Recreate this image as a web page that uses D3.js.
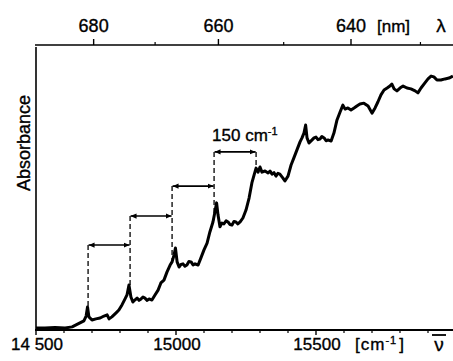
<!DOCTYPE html>
<html>
<head>
<meta charset="utf-8">
<script src="https://cdn.jsdelivr.net/npm/d3@7"></script>
<style>
  body { margin: 0; background: #fff; }
  svg { display: block; }
  text { font-family: "Liberation Sans", Arial, sans-serif; fill: #000; stroke: #000; stroke-width: 0.35; }
</style>
</head>
<body>
<svg id="chart"></svg>
<script>
// spectrum: wavenumber [cm-1] vs absorbance (arb. units)
const wavenumber = [14500, 14532, 14568, 14604, 14629, 14643, 14657, 14671, 14679, 14684,
  14689, 14700, 14714, 14729, 14743, 14754, 14761, 14771, 14786, 14796,
  14807, 14818, 14825, 14832, 14839, 14846, 14854, 14861, 14868, 14875, 14882, 14889, 14897, 14904,
  14914, 14925, 14936, 14946, 14957, 14968, 14979, 14986, 14993, 14998,
  15004, 15011, 15018, 15025, 15032, 15039, 15046, 15054, 15061, 15068, 15079, 15089, 15100, 15111,
  15121, 15132, 15139, 15145, 15150, 15157, 15164, 15171, 15179, 15186, 15193, 15200, 15207, 15214,
  15221, 15229, 15239, 15250, 15261, 15271, 15279, 15286, 15293, 15300, 15307,
  15318, 15329, 15336, 15343, 15350, 15357, 15364, 15371, 15382, 15389, 15400, 15411, 15421,
  15432, 15443, 15450, 15457, 15463, 15468, 15475, 15486, 15493, 15500, 15507, 15514,
  15521, 15529, 15536, 15543, 15554, 15564, 15575, 15586, 15596, 15604, 15614, 15625,
  15636, 15646, 15657, 15671, 15686, 15700, 15711, 15721, 15732, 15743,
  15754, 15764, 15771, 15779, 15789, 15800, 15811, 15825, 15839, 15854,
  15864, 15875, 15889, 15900, 15911, 15921, 15932, 15946, 15961, 15975, 15989]
const absorbance = [0.007, 0.007, 0.009, 0.007, 0.011, 0.018, 0.025, 0.032, 0.049, 0.081,
  0.046, 0.035, 0.039, 0.042, 0.049, 0.053, 0.039, 0.046, 0.060, 0.070,
  0.088, 0.109, 0.123, 0.158, 0.116, 0.098, 0.106, 0.112, 0.104, 0.109, 0.116, 0.112, 0.104, 0.109,
  0.105, 0.123, 0.140, 0.165, 0.175, 0.204, 0.228, 0.239, 0.263, 0.288,
  0.239, 0.221, 0.230, 0.232, 0.224, 0.228, 0.240, 0.239, 0.228, 0.232, 0.228, 0.253, 0.281, 0.305,
  0.344, 0.379, 0.414, 0.446, 0.404, 0.362, 0.375, 0.372, 0.383, 0.379, 0.370, 0.368, 0.381, 0.379,
  0.372, 0.379, 0.393, 0.421, 0.463, 0.516, 0.544, 0.568, 0.554, 0.572, 0.554,
  0.558, 0.551, 0.558, 0.547, 0.552, 0.540, 0.550, 0.547, 0.533, 0.523, 0.540, 0.579, 0.604,
  0.632, 0.660, 0.674, 0.691, 0.719, 0.674, 0.656, 0.667, 0.674, 0.677, 0.668, 0.670,
  0.679, 0.674, 0.664, 0.667, 0.663, 0.691, 0.737, 0.765, 0.789, 0.775, 0.779, 0.772,
  0.779, 0.786, 0.793, 0.796, 0.786, 0.761, 0.779, 0.800, 0.825, 0.842,
  0.849, 0.856, 0.863, 0.846, 0.839, 0.849, 0.856, 0.849, 0.846, 0.839,
  0.832, 0.849, 0.867, 0.881, 0.891, 0.888, 0.877, 0.877, 0.881, 0.884, 0.891]

// 150 cm-1 progression brackets
const bracketStart = [14686, 14836, 14986, 15136]
const bracketLevel = [0.298, 0.400, 0.505, 0.625]
const bracketWidth = 150

// axes ticks
const cmMajor = [14500, 15000, 15500]
const cmMajorLabels = ["14 500", "15000", "15500"]
const nmMajor = [680, 660, 640]
const nmMinor = [670, 650, 630]

const W = 453, H = 361
const plotLeft = 36, plotTop = 45, plotBottom = 330, plotRightEnd = 456

const svg = d3.select("#chart").attr("width", W).attr("height", H)

const x = d3.scaleLinear().domain([14500, 16000]).range([plotLeft, plotRightEnd])
const y = d3.scaleLinear().domain([0, 1]).range([plotBottom, plotTop])

// frame: left axis + bottom axis + top axis
svg.append("line").attr("x1", plotLeft).attr("x2", plotLeft).attr("y1", plotTop + 2).attr("y2", plotBottom)
    .attr("stroke", "#000").attr("stroke-width", 1.6)
svg.append("line").attr("x1", plotLeft - 1).attr("x2", W).attr("y1", plotBottom).attr("y2", plotBottom)
    .attr("stroke", "#000").attr("stroke-width", 2)
svg.append("line").attr("x1", plotLeft - 1).attr("x2", W).attr("y1", plotTop).attr("y2", plotTop)
    .attr("stroke", "#000").attr("stroke-width", 1.6)

// bottom ticks
const cmMinor = d3.range(14500, 16001, 100).filter(v => !cmMajor.includes(v))
svg.selectAll(".cmMinor").data(cmMinor).join("line")
    .attr("x1", d => x(d)).attr("x2", d => x(d))
    .attr("y1", plotBottom).attr("y2", plotBottom + 3)
    .attr("stroke", "#000").attr("stroke-width", 1.2)
svg.selectAll(".cmMajor").data(cmMajor).join("line")
    .attr("x1", d => x(d)).attr("x2", d => x(d))
    .attr("y1", plotBottom).attr("y2", plotBottom + 5)
    .attr("stroke", "#000").attr("stroke-width", 1.4)
svg.selectAll(".cmLabel").data(cmMajor).join("text")
    .attr("x", d => x(d) + 1).attr("y", 350)
    .attr("text-anchor", "middle").attr("font-size", 17)
    .text((d, i) => cmMajorLabels[i])

const cmUnit = svg.append("text").attr("x", 355).attr("y", 350).attr("font-size", 17)
    .attr("letter-spacing", 1)
cmUnit.append("tspan").text("[cm")
cmUnit.append("tspan").attr("dy", -6).attr("font-size", 11).text("-1")
cmUnit.append("tspan").attr("dy", 6).attr("dx", 2).text("]")
svg.append("text").attr("x", 439).attr("y", 351).attr("text-anchor", "middle")
    .attr("font-size", 19).text("\u03bd")
svg.append("line").attr("x1", 432).attr("x2", 446).attr("y1", 335).attr("y2", 335)
    .attr("stroke", "#000").attr("stroke-width", 1.8)

// top ticks (wavelength, nm -> cm-1)
svg.selectAll(".nmMinor").data(nmMinor).join("line")
    .attr("x1", d => x(1e7 / d)).attr("x2", d => x(1e7 / d))
    .attr("y1", plotTop).attr("y2", plotTop - 3)
    .attr("stroke", "#000").attr("stroke-width", 1.2)
svg.selectAll(".nmMajor").data(nmMajor).join("line")
    .attr("x1", d => x(1e7 / d)).attr("x2", d => x(1e7 / d))
    .attr("y1", plotTop).attr("y2", plotTop - 6)
    .attr("stroke", "#000").attr("stroke-width", 1.4)
svg.selectAll(".nmLabel").data(nmMajor).join("text")
    .attr("x", d => x(1e7 / d)).attr("y", 32)
    .attr("text-anchor", "middle").attr("font-size", 18)
    .text(d => d)
svg.append("text").attr("x", 377).attr("y", 32).attr("font-size", 17).text("[nm]")
svg.append("text").attr("x", 441).attr("y", 32).attr("text-anchor", "middle")
    .attr("font-size", 19).text("\u03bb")

// y label
svg.append("text")
    .attr("transform", "translate(30,143) rotate(-90)")
    .attr("text-anchor", "middle").attr("font-size", 18)
    .text("Absorbance")

// spectrum
const spectrum = wavenumber.map((v, i) => ({ v: v, a: absorbance[i] }))
const line = d3.line().x(d => x(d.v)).y(d => y(d.a))
svg.append("path").datum(spectrum)
    .attr("d", line)
    .attr("fill", "none").attr("stroke", "#000")
    .attr("stroke-width", 3).attr("stroke-linejoin", "round")

// absorbance on curve at a wavenumber
const bisect = d3.bisector(d => d.v).left
function curveAt(v) {
    const i = bisect(spectrum, v)
    const p0 = spectrum[Math.max(0, i - 1)], p1 = spectrum[Math.min(spectrum.length - 1, i)]
    if (p1.v === p0.v) return p0.a
    return p0.a + (p1.a - p0.a) * (v - p0.v) / (p1.v - p0.v)
}

// dashed verticals: each bracket end down to the curve
const ends = []
bracketStart.forEach((s, i) => {
    ends.push({ v: s, a: bracketLevel[i] })
})
const lastIdx = bracketStart.length - 1
ends.push({ v: bracketStart[lastIdx] + bracketWidth, a: bracketLevel[lastIdx] })
svg.selectAll(".dash").data(ends).join("line")
    .attr("x1", d => x(d.v)).attr("x2", d => x(d.v))
    .attr("y1", d => y(d.a)).attr("y2", d => y(curveAt(d.v)) + 4)
    .attr("stroke", "#000").attr("stroke-width", 1.3)
    .attr("stroke-dasharray", "5,3")

// bracket arrows
svg.append("defs").selectAll("marker").data(["arrowL", "arrowR"]).join("marker")
    .attr("id", d => d)
    .attr("viewBox", "0 -4 8 8")
    .attr("refX", 8).attr("refY", 0)
    .attr("markerWidth", 6).attr("markerHeight", 6)
    .attr("markerUnits", "userSpaceOnUse")
    .attr("orient", "auto-start-reverse")
    .append("path").attr("d", "M0,-3.5L8,0L0,3.5Z").attr("fill", "#000")

svg.selectAll(".bracket").data(bracketStart).join("line")
    .attr("x1", d => x(d) + 0.5).attr("x2", d => x(d + bracketWidth) - 0.5)
    .attr("y1", (d, i) => y(bracketLevel[i])).attr("y2", (d, i) => y(bracketLevel[i]))
    .attr("stroke", "#000").attr("stroke-width", 1.6)
    .attr("marker-start", "url(#arrowL)").attr("marker-end", "url(#arrowR)")

// "150 cm-1" label above last bracket
const lbl = svg.append("text")
    .attr("x", x(bracketStart[lastIdx]) - 2).attr("y", y(bracketLevel[lastIdx]) - 11)
    .attr("font-size", 17)
lbl.append("tspan").text("150 cm")
lbl.append("tspan").attr("dy", -6).attr("font-size", 11).text("-1")
</script>
</body>
</html>
